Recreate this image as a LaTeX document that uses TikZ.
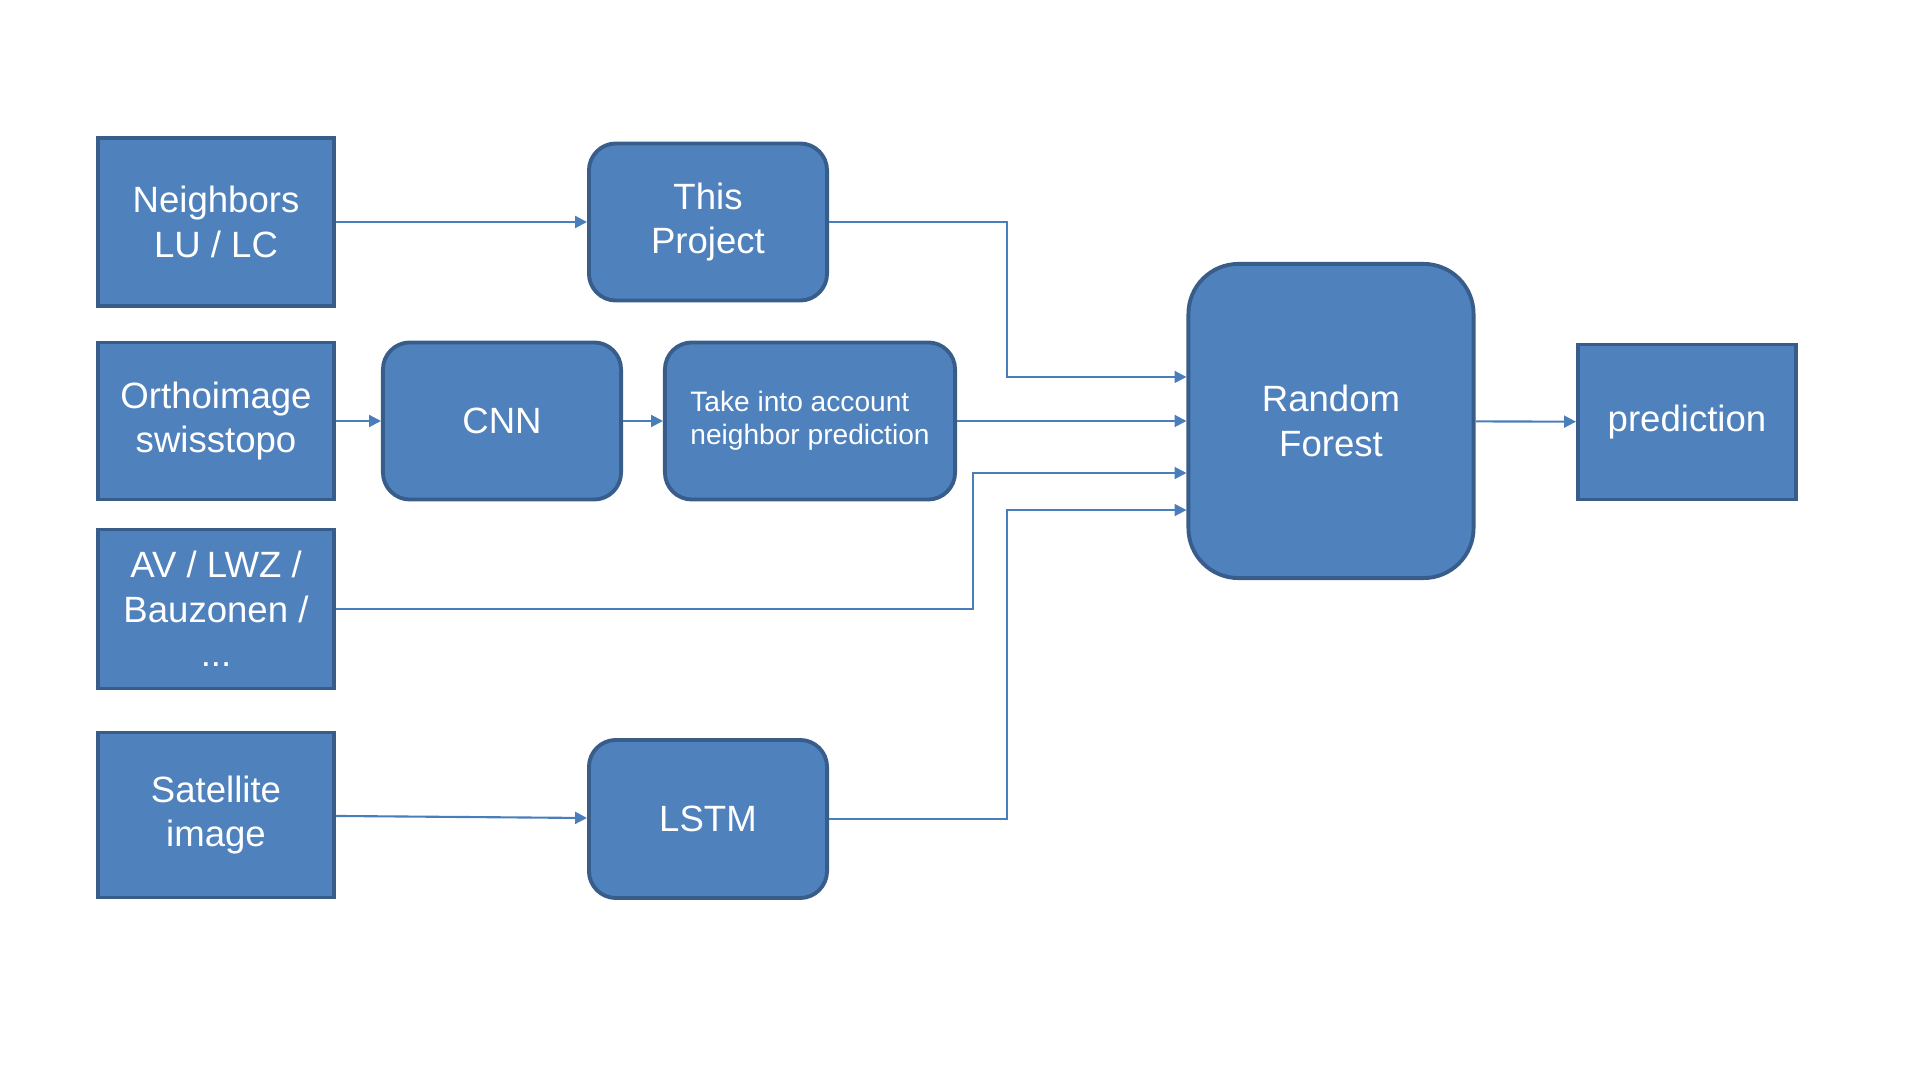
\documentclass[tikz,border=0pt]{standalone}
\usepackage{fontspec}
\setmainfont{Liberation Sans}
\usetikzlibrary{arrows.meta}
\definecolor{boxfill}{HTML}{4F81BD}
\definecolor{boxline}{HTML}{385D8A}
\definecolor{linkline}{HTML}{4A7EBB}

\begin{document}
\begin{tikzpicture}[x=0.01cm, y=-0.01cm,
                    block/.style={draw=boxline, fill=boxfill, line width=1.1pt,
                                  text=white, align=center, inner sep=2pt,
                                  font=\fontsize{10.4}{12.7}\selectfont},
                    square/.style={block},
                    rounded/.style={block, rounded corners=0.27cm},
                    link/.style={draw=linkline, line width=0.6pt,
                                 -{Triangle[length=3.4pt, width=3.4pt]}}]
\useasboundingbox (0,0) rectangle (1920,1080);
\node[square, minimum width=2.36cm, minimum height=1.68cm] (nb) at (216,222) {Neighbors\\LU / LC};
\node[rounded, minimum width=2.38cm, minimum height=1.57cm] (tp) at (708,222) {This\\Project};
\node[square, minimum width=2.36cm, minimum height=1.57cm] (or) at (216,421) {Orthoimage\\swisstopo};
\node[rounded, minimum width=2.38cm, minimum height=1.57cm] (cnn) at (502,421) {CNN};
\node[rounded, minimum width=2.90cm, minimum height=1.57cm, align=left,
      font=\fontsize{8}{9.5}\selectfont] (take) at (810,421) {Take into account\\neighbor prediction};
\node[square, minimum width=2.36cm, minimum height=1.59cm] (av) at (216,609) {AV / LWZ /\\Bauzonen /\\...};
\node[square, minimum width=2.36cm, minimum height=1.65cm] (sat) at (216,815) {Satellite\\image};
\node[rounded, minimum width=2.38cm, minimum height=1.58cm] (lstm) at (708,819) {LSTM};
\node[rounded, rounded corners=0.5cm, minimum width=2.85cm, minimum height=3.14cm] (rf) at (1331,421) {Random\\Forest};
\node[square, minimum width=2.18cm, minimum height=1.55cm] (pred) at (1687,422) {prediction};
\coordinate (j1) at (1007,0);
\coordinate (j2) at (973,0);
\draw[link] (nb) -- (tp);
\draw[link] (or) -- (cnn);
\draw[link] (cnn) -- (take);
\draw[link] (take) -- (rf);
\draw[link] (sat) -- (lstm);
\draw[link] (rf) -- (pred);
\draw[link] (tp.east) -- (tp.east -| j1) |- ([yshift=0.44cm]rf.west);
\draw[link] (av.east) -- (av.east -| j2) |- ([yshift=-0.52cm]rf.west);
\draw[link] (lstm.east) -- (lstm.east -| j1) |- ([yshift=-0.89cm]rf.west);
\end{tikzpicture}
\end{document}
